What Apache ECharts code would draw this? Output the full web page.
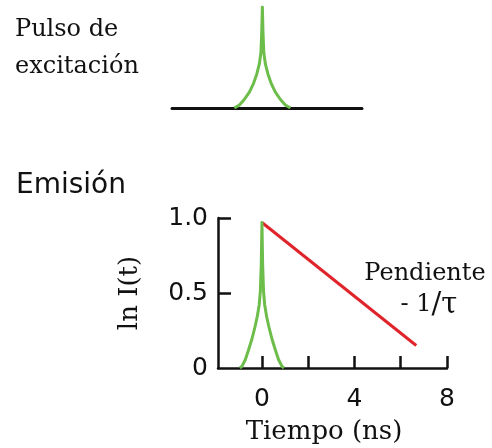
<!DOCTYPE html>
<html>
<head>
<meta charset="utf-8">
<script src="https://cdn.jsdelivr.net/npm/echarts@6/dist/echarts.min.js"></script>
<style>
html,body{margin:0;padding:0;background:#fff;}
#chart{width:492px;height:448px;}
</style>
</head>
<body>
<div id="chart"></div>
<script>
// Excitation pulse (top panel), time in ns vs relative intensity
const pulseX = [-1.21, -0.99, -0.78, -0.56, -0.39, -0.24, -0.13, -0.065, -0.03, 0, 0.03, 0.065, 0.13, 0.24, 0.39, 0.56, 0.78, 0.99, 1.21];
const pulseY = [0, 0.03, 0.084, 0.158, 0.238, 0.337, 0.436, 0.545, 0.73, 1.0, 0.73, 0.545, 0.436, 0.337, 0.238, 0.158, 0.084, 0.03, 0];
// Pulse as seen in the emission panel
const emPulseX = [-0.95, -0.86, -0.72, -0.58, -0.43, -0.30, -0.20, -0.12, -0.07, -0.03, 0, 0.03, 0.07, 0.12, 0.20, 0.30, 0.43, 0.58, 0.72, 0.86, 0.95];
const emPulseY = [0, 0.012, 0.055, 0.12, 0.195, 0.275, 0.345, 0.42, 0.51, 0.69, 0.97, 0.69, 0.51, 0.42, 0.345, 0.275, 0.195, 0.12, 0.055, 0.012, 0];
// Emission decay (ln I(t)), straight line
const decayX = [0, 6.67];
const decayY = [0.97, 0.15];
// Axis ticks and labels
const xTicks = [0, 2, 4, 6, 8];
const xTickLabels = [0, 4, 8];
const yTicks = [0.5, 1.0];
const yTickLabels = [0, 0.5, 1.0];

const zip = (a, b) => a.map((v, i) => [v, b[i]]);
const GREEN = '#6cbd4a';
const RED = '#e0242b';
const INK = '#111111';
const SERIF = 'DejaVu Serif';
const SANS = 'DejaVu Sans';

const chart = echarts.init(document.getElementById('chart'), null, {renderer: 'canvas'});
chart.setOption({
  animation: false,
  backgroundColor: '#ffffff',
  grid: [
    {left: 172, right: 130, top: 7, bottom: 340, containLabel: false},
    {left: 218, right: 45, top: 218, bottom: 80, containLabel: false}
  ],
  xAxis: [
    {
      gridIndex: 0, type: 'value', min: -3.9, max: 4.3,
      axisLine: {show: true, lineStyle: {color: INK, width: 3}},
      axisTick: {show: false}, axisLabel: {show: false}, splitLine: {show: false}
    },
    {
      gridIndex: 1, type: 'value', min: -1.9, max: 8,
      name: 'Tiempo (ns)', nameLocation: 'middle', nameGap: 51,
      nameTextStyle: {fontFamily: SERIF, fontSize: 26, color: INK, padding: [0, 17, 0, 0]},
      axisLine: {show: true, onZero: false, lineStyle: {color: INK, width: 2.5}},
      axisTick: {show: true, inside: true, length: 12, customValues: xTicks, lineStyle: {color: INK, width: 2.5}},
      axisLabel: {show: true, customValues: xTickLabels, margin: 19, fontFamily: SANS, fontSize: 25, color: INK},
      splitLine: {show: false}
    }
  ],
  yAxis: [
    {gridIndex: 0, type: 'value', min: 0, max: 1, show: false},
    {
      gridIndex: 1, type: 'value', min: 0, max: 1,
      name: 'ln I(t)', nameLocation: 'middle', nameGap: 75, nameRotate: 90,
      nameTextStyle: {fontFamily: SERIF, fontSize: 26, color: INK},
      axisLine: {show: true, onZero: false, lineStyle: {color: INK, width: 2.5}},
      axisTick: {show: true, inside: true, length: 13, customValues: yTicks, lineStyle: {color: INK, width: 2.5}},
      axisLabel: {
        show: true, customValues: yTickLabels, margin: 10, fontFamily: SANS, fontSize: 25, color: INK,
        padding: [5, 0, 0, 0],
        formatter: v => (v === 0 ? '0' : v.toFixed(1))
      },
      splitLine: {show: false}
    }
  ],
  series: [
    {
      type: 'line', xAxisIndex: 0, yAxisIndex: 0, data: zip(pulseX, pulseY),
      showSymbol: false, smooth: false, lineStyle: {color: GREEN, width: 3, join: 'round'}, z: 3
    },
    {
      type: 'line', xAxisIndex: 1, yAxisIndex: 1, data: zip(emPulseX, emPulseY),
      showSymbol: false, smooth: false, lineStyle: {color: GREEN, width: 3, join: 'round'}, z: 3
    },
    {
      type: 'line', xAxisIndex: 1, yAxisIndex: 1, data: zip(decayX, decayY),
      showSymbol: false, lineStyle: {color: RED, width: 3}, z: 2
    }
  ],
  graphic: [
    {type: 'text', left: 15, top: 11, style: {text: 'Pulso de\nexcitación', font: '24px "DejaVu Serif"', fill: INK, lineHeight: 37}},
    {type: 'text', left: 16, top: 172, style: {text: 'Emisión', font: '28px "DejaVu Sans"', fill: INK}},
    {type: 'text', x: 425, y: 274, style: {text: 'Pendiente', font: '24px "DejaVu Serif"', fill: INK, align: 'center', verticalAlign: 'middle'}},
    {type: 'text', x: 429, y: 305, style: {
      text: '- 1{a|/}{a|τ}', font: '24px "DejaVu Serif"', fill: INK, align: 'center', verticalAlign: 'middle',
      rich: {a: {fontFamily: SERIF, fontSize: 29, fill: INK}}
    }}
  ]
});
</script>
</body>
</html>
